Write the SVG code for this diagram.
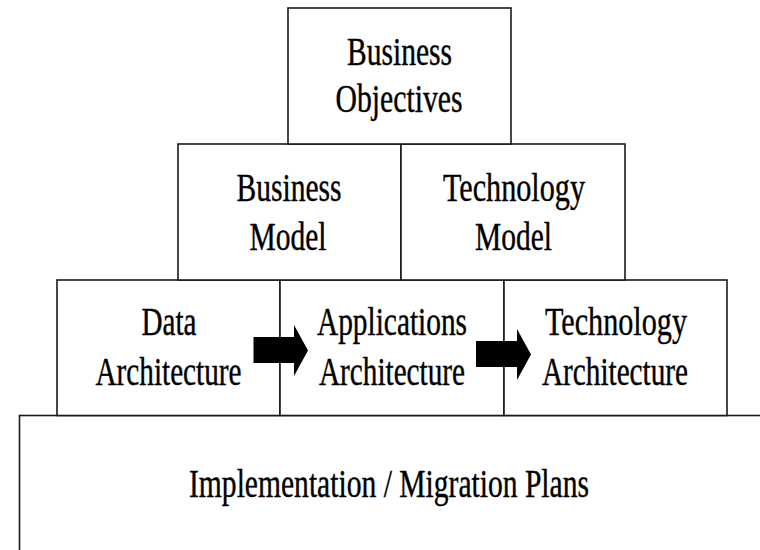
<svg xmlns="http://www.w3.org/2000/svg" width="760" height="550" viewBox="0 0 760 550" font-family="'Liberation Serif', 'Times New Roman', Times, serif">
<style>
.box{fill:#fff;stroke:#1a1a1a;stroke-width:1.6}
.t{font-family:'Liberation Serif','Times New Roman',Times,serif;font-size:39px;fill:#000;stroke:#000;stroke-width:0.4;text-anchor:middle}
.arr{fill:#000;stroke:none}
</style>
<rect width="760" height="550" fill="#fff"/>
<g id="implementation">
<rect class="box" x="19.5" y="415.5" width="760" height="160"/>
<text class="t" x="389" y="497" textLength="400" lengthAdjust="spacingAndGlyphs">Implementation / Migration Plans</text>
</g>
<g id="data-architecture">
<rect class="box" x="57" y="280" width="223" height="135.5"/>
<text class="t" x="169" y="335" textLength="55" lengthAdjust="spacingAndGlyphs">Data</text>
<text class="t" x="168.5" y="385" textLength="146" lengthAdjust="spacingAndGlyphs">Architecture</text>
</g>
<g id="applications-architecture">
<rect class="box" x="280" y="280" width="224" height="135.5"/>
<text class="t" x="392" y="335" textLength="150" lengthAdjust="spacingAndGlyphs">Applications</text>
<text class="t" x="392" y="385" textLength="146" lengthAdjust="spacingAndGlyphs">Architecture</text>
</g>
<g id="technology-architecture">
<rect class="box" x="504" y="280" width="223" height="135.5"/>
<text class="t" x="616" y="335" textLength="142" lengthAdjust="spacingAndGlyphs">Technology</text>
<text class="t" x="615" y="385" textLength="146" lengthAdjust="spacingAndGlyphs">Architecture</text>
</g>
<g id="business-model">
<rect class="box" x="178" y="144" width="223" height="136"/>
<text class="t" x="289" y="200.5" textLength="105" lengthAdjust="spacingAndGlyphs">Business</text>
<text class="t" x="288" y="250" textLength="77" lengthAdjust="spacingAndGlyphs">Model</text>
</g>
<g id="technology-model">
<rect class="box" x="401" y="144" width="224" height="136"/>
<text class="t" x="514" y="200.5" textLength="142" lengthAdjust="spacingAndGlyphs">Technology</text>
<text class="t" x="513.5" y="250" textLength="77" lengthAdjust="spacingAndGlyphs">Model</text>
</g>
<g id="business-objectives">
<rect class="box" x="288" y="8" width="223" height="136"/>
<text class="t" x="399.5" y="65" textLength="105" lengthAdjust="spacingAndGlyphs">Business</text>
<text class="t" x="399" y="111.5" textLength="127" lengthAdjust="spacingAndGlyphs">Objectives</text>
</g>
<g id="connectors">
<path class="arr" d="M253.5,337 H294 V325 L308,350.5 L294,376 V363 H253.5 Z"/>
<path class="arr" d="M476,341 H517 V329 L531,354.5 L517,380 V367 H476 Z"/>
</g>
</svg>
